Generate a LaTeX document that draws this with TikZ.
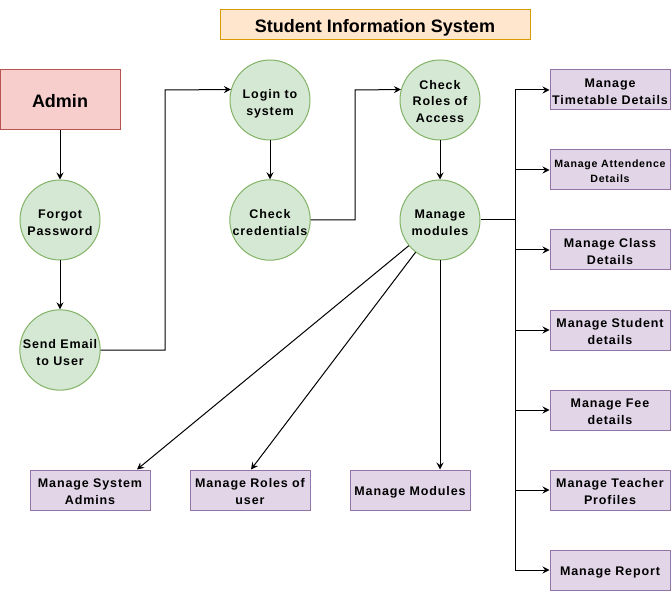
\documentclass[tikz,border=0pt]{standalone}
\usepackage{fontspec}
\setmainfont{Liberation Sans}
\newfontfamily\boxfont[LetterSpace=7]{Liberation Sans}
\usetikzlibrary{arrows.meta,calc}
\definecolor{gfill}{HTML}{D5E8D4}\definecolor{gline}{HTML}{82B366}
\definecolor{rfill}{HTML}{F8CECC}\definecolor{rline}{HTML}{B85450}
\definecolor{pfill}{HTML}{E1D5E7}\definecolor{pline}{HTML}{9673A6}
\definecolor{ofill}{HTML}{FFE6CC}\definecolor{oline}{HTML}{D79B00}
\tikzset{
  txt/.style={font=\boxfont\bfseries\fontsize{12.5}{16.7}\selectfont},
  l1/.style={text height=10.6pt,text depth=0pt},
  l2c/.style={text height=30.4pt,text depth=0pt},
  l2b/.style={text height=29pt,text depth=0pt},
  l3/.style={text height=45.4pt,text depth=0pt},
  proc/.style={circle,draw=gline,fill=gfill,line width=1pt,minimum size=80pt,inner sep=0pt,align=center,txt,l2c},
  mbox/.style={rectangle,draw=pline,fill=pfill,line width=1pt,minimum width=120pt,minimum height=40pt,inner sep=0pt,align=center,txt,l2b},
  arr/.style={line width=1pt,-{Stealth[length=7pt,width=7pt,inset=2.5pt]}},
  ln/.style={line width=1pt}
}
\begin{document}
\begin{tikzpicture}[x=1pt,y=-1pt]
\useasboundingbox (0,0) rectangle (671,593);
\node[rectangle,draw=oline,fill=ofill,line width=1pt,minimum width=310pt,minimum height=30pt,inner sep=0pt,font=\fontsize{18}{21}\selectfont\bfseries,text height=14.6pt,text depth=0pt] (title) at (375,25) {Student Information System};
\node[rectangle,draw=rline,fill=rfill,line width=1pt,minimum width=120pt,minimum height=60pt,inner sep=0pt,font=\fontsize{18}{21}\selectfont\bfseries,text height=14.6pt,text depth=0pt] (admin) at (60,100) {Admin};
\node[proc] (fp) at (60,220) {Forgot\\Password};
\node[proc] (se) at (60,350) {Send Email\\to User};
\node[proc] (li) at (270,100) {Login to\\system};
\node[proc] (cc) at (270,220) {Check\\credentials};
\node[proc,l3] (cr) at (440,100) {Check\\Roles of\\Access};
\node[proc] (mm) at (440,220) {Manage\\modules};
\node[mbox] (tt) at (610,90) {Manage\\Timetable Details};
\node[mbox,font=\boxfont\bfseries\fontsize{10.6}{15}\selectfont,text height=25.4pt,text depth=0pt] (att) at (610,170) {Manage Attendence\\Details};
\node[mbox] (cl) at (610,250) {Manage Class\\Details};
\node[mbox] (st) at (610,330) {Manage Student\\details};
\node[mbox] (fee) at (610,410) {Manage Fee\\details};
\node[mbox] (tp) at (610,490) {Manage Teacher\\Profiles};
\node[mbox,l1] (rep) at (610,570) {Manage Report};
\node[mbox] (sa) at (90,490) {Manage System\\Admins};
\node[mbox] (ru) at (250,490) {Manage Roles of\\user};
\node[mbox,l1] (mmod) at (410,490) {Manage Modules};
\coordinate (j1) at (165,350);
\coordinate (j2) at (165,90);
\coordinate (k1) at (355,220);
\coordinate (k2) at (355,90);
\coordinate (bus) at (515,220);
\draw[arr] (admin.south) -- (fp.north);
\draw[arr] (fp.south) -- (se.north);
\draw[arr] (se.east) -- (j1) -- (j2) -- (li.165.5);
\draw[arr] (li.south) -- (cc.north);
\draw[arr] (cc.east) -- (k1) -- (k2) -- (cr.165.5);
\draw[arr] (cr.south) -- (mm.north);
\draw[ln] (mm.east) -- (bus);
\draw[ln] (bus |- tt) -- (bus |- rep);
\foreach \b in {tt,att,cl,st,fee,tp,rep}{\draw[arr] (bus |- \b) -- (\b.west);}
\draw[arr] (mm) -- ([xshift=47pt]sa.north);
\draw[arr] (mm) -- ([xshift=1pt]ru.north);
\draw[arr] (mm.south) -- (mm.south |- mmod.north);
\end{tikzpicture}
\end{document}
